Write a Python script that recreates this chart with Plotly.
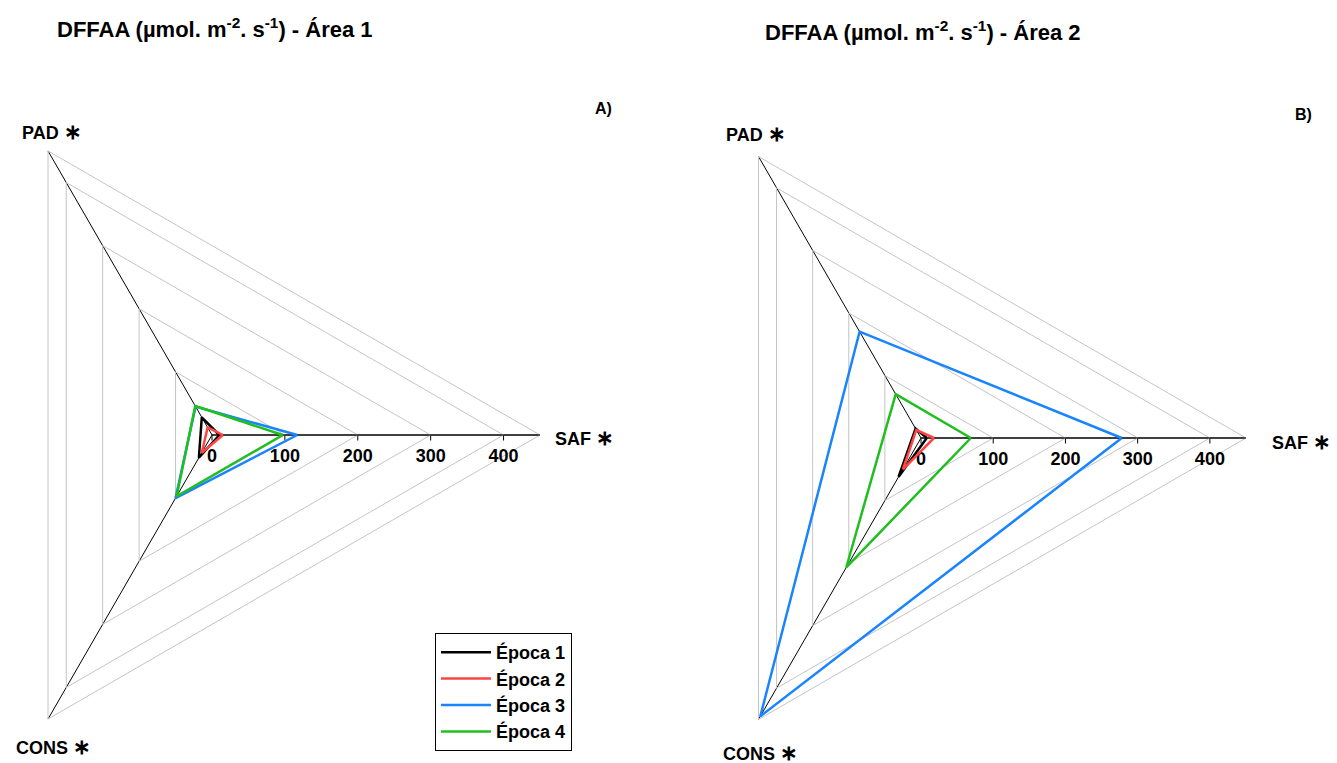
import plotly.graph_objects as go

# ---------------- data ----------------
axes_labels = ["SAF", "PAD", "CONS"]
STAR = "<span style='font-size:21px'>∗</span>"
axes_display = ["<b>SAF " + STAR + "</b>", "<b>PAD " + STAR + "</b>", "<b>CONS " + STAR + "</b>"]
epochs = ["Época 1", "Época 2", "Época 3", "Época 4"]

# Área 1  (values for SAF, PAD, CONS)
area1_ep1 = [10, 28, 36]
area1_ep2 = [15, 12, 28]
area1_ep3 = [117, 45, 100]
area1_ep4 = [97, 46, 97]

# Área 2
area2_ep1 = [8, 15, 62]
area2_ep2 = [18, 13, 50]
area2_ep3 = [278, 170, 445]
area2_ep4 = [69, 70, 207]

radial_ticks = [0, 100, 200, 300, 400]
radial_max = 450

colors = ["#000000", "#ff4444", "#1a84ff", "#1fbf1f"]

# ---------------- layout geometry ----------------
W, H = 1455, 763
SHIFT = 118  # figure is shifted left in the page by this many px
FONT = "Arial, Liberation Sans, sans-serif"


def dom(cx_page, cy_page, r):
    cx = cx_page + SHIFT
    cyb = H - cy_page
    return dict(x=[(cx - r) / W, (cx + r) / W], y=[(cyb - r) / H, (cyb + r) / H])


def px(xp):
    return (xp + SHIFT) / W


def py(yp):
    return 1 - yp / H


fig = go.Figure()

area1 = [area1_ep1, area1_ep2, area1_ep3, area1_ep4]
area2 = [area2_ep1, area2_ep2, area2_ep3, area2_ep4]

for i, vals in enumerate(area1):
    fig.add_trace(go.Scatterpolar(
        r=vals + vals[:1], theta=axes_labels + axes_labels[:1],
        mode="lines", name=epochs[i], legendgroup=epochs[i],
        line=dict(color=colors[i], width=2.5), subplot="polar", showlegend=True))
for i, vals in enumerate(area2):
    fig.add_trace(go.Scatterpolar(
        r=vals + vals[:1], theta=axes_labels + axes_labels[:1],
        mode="lines", name=epochs[i], legendgroup=epochs[i],
        line=dict(color=colors[i], width=2.5), subplot="polar2", showlegend=False))


def polar_cfg(domain):
    return dict(
        domain=domain,
        bgcolor="rgba(0,0,0,0)",
        gridshape="linear",
        radialaxis=dict(
            range=[0, radial_max], tickmode="array", tickvals=radial_ticks,
            angle=0, side="clockwise", showline=True, linecolor="black", linewidth=1,
            ticks="outside", ticklen=5, tickcolor="black", tickwidth=1,
            tickfont=dict(family=FONT, size=18, color="black", weight="bold"),
            gridcolor="#c4c4c4", gridwidth=1, layer="below traces"),
        angularaxis=dict(
            type="category", categoryorder="array", categoryarray=axes_labels,
            rotation=0, direction="counterclockwise", showticklabels=False,
            showline=True, linecolor="#c4c4c4", linewidth=1,
            gridcolor="black", gridwidth=1, ticks="", layer="below traces"),
    )


annots = [
    dict(text="<b>DFFAA (µmol. m<sup>-2</sup>. s<sup>-1</sup>) - Área 1</b>",
         x=px(55), y=py(28), size=22),
    dict(text="<b>DFFAA (µmol. m<sup>-2</sup>. s<sup>-1</sup>) - Área 2</b>",
         x=px(763), y=py(31), size=22),
    dict(text="<b>A)</b>", x=px(593), y=py(108), size=16),
    dict(text="<b>B)</b>", x=px(1293), y=py(115), size=16),
    # axis labels, Área 1
    dict(text=axes_display[0], x=px(553), y=py(437), size=18),
    dict(text=axes_display[1], x=px(20), y=py(131), size=18),
    dict(text=axes_display[2], x=px(14), y=py(746), size=18),
    # axis labels, Área 2
    dict(text=axes_display[0], x=px(1270), y=py(441), size=18),
    dict(text=axes_display[1], x=px(724), y=py(133), size=18),
    dict(text=axes_display[2], x=px(721), y=py(752), size=18),
]

fig.update_layout(
    width=W, height=H,
    margin=dict(l=0, r=0, t=0, b=0),
    paper_bgcolor="white", plot_bgcolor="white",
    font=dict(family=FONT, color="black"),
    polar=polar_cfg(dom(212, 435, 328)),
    polar2=polar_cfg(dom(921, 438, 325)),
    legend=dict(
        x=px(435), y=py(633), xanchor="left", yanchor="top",
        bordercolor="black", borderwidth=1, bgcolor="white",
        font=dict(family=FONT, size=18, color="black", weight="bold"),
        itemwidth=50, tracegroupgap=0),
    annotations=[
        dict(text=a["text"], x=a["x"], y=a["y"], xref="paper", yref="paper",
             xanchor="left", yanchor="middle", showarrow=False,
             font=dict(family=FONT, size=a["size"], color="black"))
        for a in annots
    ],
)

fig.write_html(
    "out.html",
    config={"displayModeBar": False},
    post_script=("var d=document.getElementById('{plot_id}');"
                 "d.style.marginLeft='-%dpx';"
                 "document.body.style.margin='0';"
                 "document.body.style.overflow='hidden';" % SHIFT),
)
